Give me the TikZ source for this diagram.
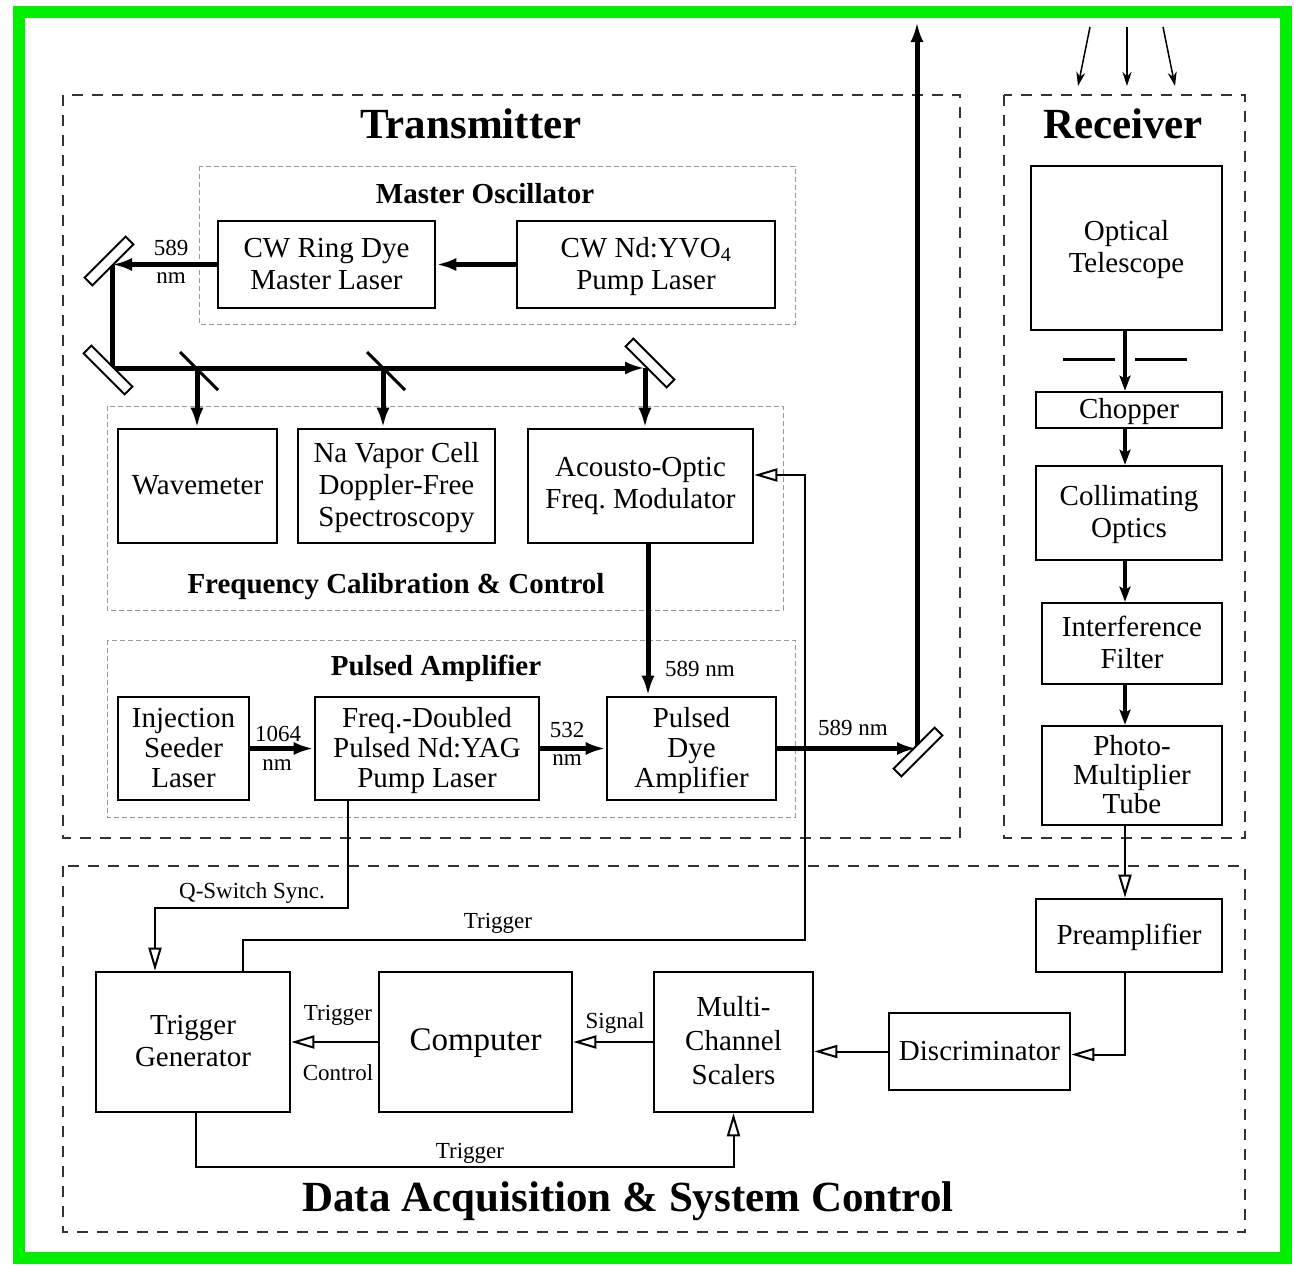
\documentclass[tikz,border=0pt]{standalone}
\usepackage{fontspec}
\setmainfont{Liberation Serif}
\usetikzlibrary{arrows.meta,calc}
\definecolor{frameg}{RGB}{0,240,0}
\frenchspacing
\newcommand\txtf{\fontsize{29}{32}\selectfont}
\newcommand\lblf{\fontsize{23}{25}\selectfont}
\newcommand\ttlf{\bfseries\fontsize{43}{46}\selectfont}
\newcommand\subf{\bfseries\fontsize{29}{31}\selectfont}
\newcommand\tp{\rule{0pt}{25pt}}
\newcommand\bt{\rule[-8pt]{0pt}{0pt}}
\begin{document}
\begin{tikzpicture}[x=1pt,y=-1pt,
  box/.style={draw, line width=2.6pt, inner sep=0pt, align=center, font=\txtf},
  beam/.style={line width=5pt},
  bhead/.style={-{Latex[length=20pt,width=13pt]}},
  rbeam/.style={line width=4pt, -{Stealth[length=15pt,width=11pt,inset=3pt]}},
  sig/.style={line width=2pt, -{Triangle[open,length=23pt,width=13pt,line width=2pt]}},
  bigdash/.style={draw=black!80, line width=2.5pt, dash pattern=on 11pt off 9pt},
  smalldash/.style={draw=black!40, line width=1pt, dash pattern=on 5pt off 3pt},
  mirr/.style={draw, fill=white, line width=2pt, minimum width=58pt, minimum height=11pt, inner sep=0pt},
  lbl/.style={font=\lblf, inner sep=0pt},
  ttl/.style={font=\ttlf, inner sep=0pt},
  subttl/.style={font=\subf, inner sep=0pt},
  ray/.style={line width=1.5pt, -{Stealth[length=14pt,width=9pt]}}
]
\useasboundingbox (0,0) rectangle (1294,1266);
\draw[draw=frameg, line width=12pt] (19,12) rectangle (1286,1258);

% containers
\draw[bigdash] (63,95) rectangle (960,838);
\draw[bigdash] (1004,95) rectangle (1245,838);
\draw[bigdash] (63,866) rectangle (1245,1232);
\draw[smalldash] (199,166) rectangle (795,324);
\draw[smalldash] (107,406) rectangle (783,610);
\draw[smalldash] (107,640) rectangle (795,817);

% titles
\node[ttl] (tT) at (471,124) {Transmitter};
\node[ttl] (tR) at (1123,124) {Receiver};
\node[ttl] (tD) at (628,1201) {Data Acquisition \& System Control};
\node[subttl] (tMO) at (485,194) {Master Oscillator};
\node[subttl] (tFC) at (396,587) {Frequency Calibration \& Control};
\node[subttl] (tPA) at (436,668) {Pulsed Amplifier};

% transmitter boxes
\node[box, minimum width=217pt, minimum height=87pt] (cwr) at (326.5,264.5) {\tp CW Ring Dye\\Master Laser\bt};
\node[box, minimum width=258pt, minimum height=87pt] (cwn) at (646,264.5) {\tp CW Nd:YVO\textsubscript{4}\\Pump Laser\bt};
\node[box, minimum width=159pt, minimum height=114pt] (wave) at (197.5,486) {\tp Wavemeter\bt};
\node[box, minimum width=197pt, minimum height=114pt] (nav) at (396.5,486) {\tp Na Vapor Cell\\Doppler-Free\\Spectroscopy\bt};
\node[box, minimum width=225pt, minimum height=114pt] (aom) at (640.5,486) {\tp Acousto-Optic\\Freq. Modulator\rule[-12pt]{0pt}{0pt}};
\node[box, minimum width=131pt, minimum height=103pt, font=\fontsize{29}{30}\selectfont] (inj) at (183.5,748.5) {\tp Injection\\Seeder\\Laser\bt};
\node[box, minimum width=224pt, minimum height=103pt, font=\fontsize{29}{30}\selectfont] (yag) at (427,748.5) {\tp Freq.-Doubled\\Pulsed Nd:YAG\\Pump Laser\bt};
\node[box, minimum width=169pt, minimum height=103pt, font=\fontsize{29}{30}\selectfont] (pda) at (691.5,748.5) {\tp Pulsed\\Dye\\Amplifier\bt};

% receiver boxes
\node[box, minimum width=191pt, minimum height=164pt] (tel) at (1126.5,248) {\tp Optical\\Telescope\bt};
\node[box, minimum width=186pt, minimum height=36pt] (chop) at (1129,410) {\tp Chopper\bt};
\node[box, minimum width=186pt, minimum height=94pt] (coll) at (1129,513) {\tp Collimating\\Optics\bt};
\node[box, minimum width=180pt, minimum height=81pt] (filt) at (1132,643.5) {\tp Interference\\Filter\bt};
\node[box, minimum width=180pt, minimum height=99pt, font=\fontsize{29}{29}\selectfont] (pmt) at (1132,775.5) {\tp Photo-\\Multiplier\\Tube\bt};

% DAQ boxes
\node[box, minimum width=186pt, minimum height=73pt] (pre) at (1129,935.5) {\tp Preamplifier\bt};
\node[box, minimum width=181pt, minimum height=77pt] (disc) at (979.5,1051.5) {\tp Discriminator\bt};
\node[box, minimum width=159pt, minimum height=140pt, font=\fontsize{29}{34}\selectfont] (mcs) at (733.5,1042) {\tp Multi-\\Channel\\Scalers\bt};
\node[box, minimum width=193pt, minimum height=140pt, font=\fontsize{33}{36}\selectfont] (comp) at (475.5,1042) {\tp Computer\bt};
\node[box, minimum width=194pt, minimum height=140pt] (trig) at (193,1042) {\tp Trigger\\Generator\bt};

% beam coordinates
\coordinate (m1) at (112,264.5);
\coordinate (m2) at (112,368);
\coordinate (m3) at (645,368);
\coordinate (bs1) at (197,368);
\coordinate (bs2) at (383,368);
\coordinate (aomo) at (648,543);
\coordinate (m4) at (917,748.5);
\coordinate (up) at (917,22);
\coordinate (rx) at (1125,0);

% laser beams
\draw[beam,bhead] (cwn.west) -- (cwr.east);
\draw[beam,bhead] (cwr.west) -- (m1);
\draw[beam,bhead] (m1) -- (m2) -- (m3);
\draw[beam,bhead] (m3) -- (m3 |- aom.north);
\draw[beam,bhead] (bs1) -- (bs1 |- wave.north);
\draw[beam,bhead] (bs2) -- (bs2 |- nav.north);
\draw[beam,bhead] (aomo |- aom.south) -- (aomo |- pda.north);
\draw[beam,bhead] (inj.east) -- (yag.west);
\draw[beam,bhead] (yag.east) -- (pda.west);
\draw[beam,bhead] (pda.east) -- (m4);
\draw[beam,bhead] (m4) -- (up);

% mirrors and splitters
\node[mirr, rotate=45] (mi1) at (109,261) {};
\node[mirr, rotate=-45] (mi2) at (108,370) {};
\node[mirr, rotate=-45] (mi3) at (650,363) {};
\node[mirr, rotate=45] (mi4) at (918,752) {};
\draw[line width=3pt] (180,352) -- (218,390);
\draw[line width=3pt] (367,352) -- (405,390);

% beam labels
\node[lbl] (l1) at (171,248) {589};
\node[lbl] (l2) at (171,278) {nm};
\node[lbl] (l3) at (278,734) {1064};
\node[lbl] (l4) at (277,765) {nm};
\node[lbl] (l5) at (567,730) {532};
\node[lbl] (l6) at (567,760) {nm};
\node[lbl] (l7) at (700,669) {589 nm};
\node[lbl] (l8) at (853,728) {589 nm};

% receiver optics
\draw[ray] (1090,27) -- (1078,86);
\draw[ray] (1127,27) -- (1127,86);
\draw[ray] (1163,27) -- (1175,86);
\draw[rbeam] (tel.south -| rx) -- (chop.north -| rx);
\draw[line width=3pt] (1063,359) -- (1115,359);
\draw[line width=3pt] (1135,359) -- (1187,359);
\draw[rbeam] (chop.south -| rx) -- (coll.north -| rx);
\draw[rbeam] (coll.south -| rx) -- (filt.north -| rx);
\draw[rbeam] (filt.south -| rx) -- (pmt.north -| rx);

% signal connectors
\draw[sig] ([xshift=-79pt]yag.south) |- ([xshift=-38pt,yshift=63pt]trig.north) -- ([xshift=-38pt]trig.north);
\draw[sig] ([xshift=50pt]trig.north) |- (805,940) |- ([yshift=11pt]aom.east);
\draw[sig] (pmt.south -| rx) -- (pre.north -| rx);
\draw[sig] (pre.south -| rx) |- ([yshift=-3pt]disc.east);
\draw[sig] (disc.west) -- (disc.west -| mcs.east);
\draw[sig] (mcs.west) -- (comp.east);
\draw[sig] (comp.west) -- (trig.east);
\draw[sig] ([xshift=3pt]trig.south) -- ++(0,54) -| (mcs.south);

% signal labels
\node[lbl] (q1) at (252,893) {Q-Switch Sync.};
\node[lbl] (q2) at (498,923) {Trigger};
\node[lbl] (q3) at (338,1015) {Trigger};
\node[lbl] (q4) at (338,1073) {Control};
\node[lbl] (q5) at (615,1023) {Signal};
\node[lbl] (q6) at (470,1153) {Trigger};
\end{tikzpicture}
\end{document}
